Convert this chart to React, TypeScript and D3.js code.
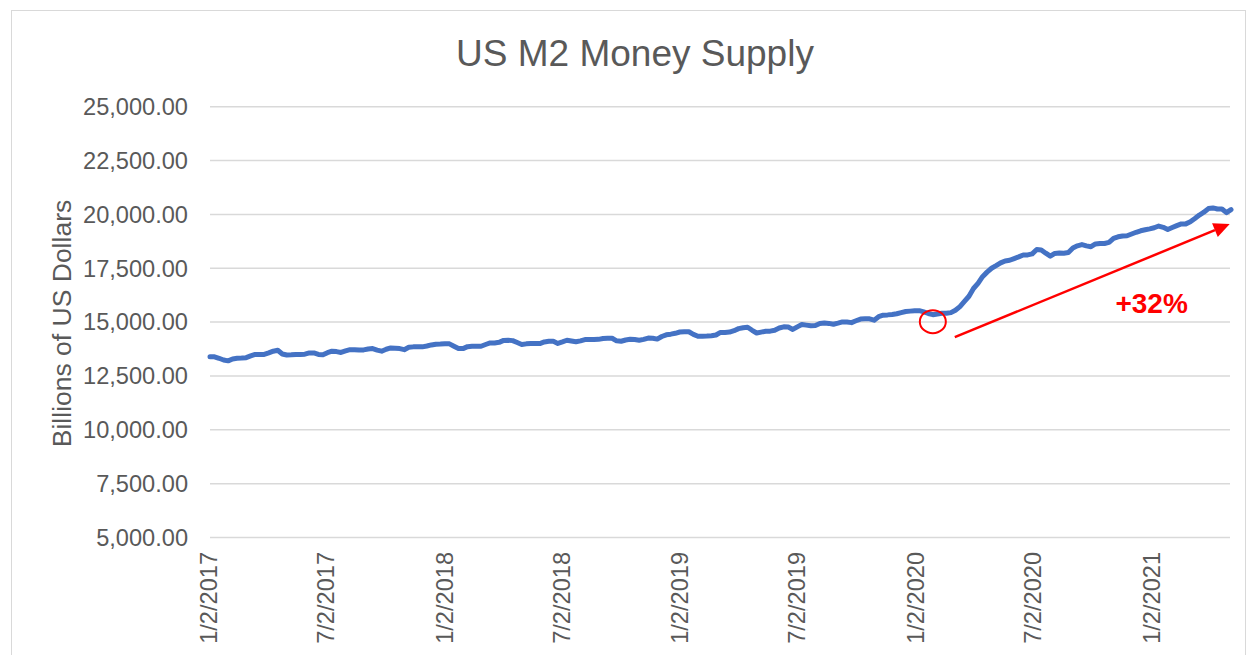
import React from "react"
import * as d3 from "d3"

// weekly M2 readings (billions USD), starting Mon 1/2/2017
const startDate = new Date(Date.UTC(2017, 0, 2))
const m2Values = [
  13390, 13390, 13320, 13240, 13200, 13290, 13320, 13330, 13350, 13430,
  13500, 13500, 13500, 13570, 13650, 13690, 13520, 13470, 13480, 13500,
  13500, 13510, 13570, 13570, 13500, 13480, 13580, 13650, 13630, 13590,
  13660, 13720, 13720, 13700, 13710, 13750, 13770, 13700, 13650, 13740,
  13800, 13790, 13770, 13720, 13830, 13850, 13850, 13850, 13890, 13940,
  13975, 13985, 14000, 13990, 13880, 13775, 13770, 13860, 13880, 13880,
  13880, 13960, 14030, 14030, 14060, 14150, 14157, 14140, 14050, 13960,
  13990, 14005, 14005, 14005, 14080, 14110, 14110, 14010, 14080, 14157,
  14120, 14085, 14130, 14190, 14190, 14190, 14200, 14240, 14250, 14250,
  14130, 14110, 14170, 14200, 14190, 14160, 14200, 14260, 14250, 14210,
  14330, 14410, 14440, 14480, 14540, 14557, 14550, 14430, 14340, 14342,
  14350, 14370, 14400, 14520, 14520, 14535, 14600, 14696, 14740, 14760,
  14620, 14494, 14535, 14575, 14580, 14620, 14725, 14780, 14770, 14660,
  14780, 14890, 14860, 14830, 14840, 14935, 14960, 14940, 14900, 14950,
  15010, 15000, 14975, 15060, 15140, 15150, 15150, 15090, 15250, 15320,
  15335, 15355, 15387, 15440, 15490, 15510, 15530, 15530, 15475, 15400,
  15345, 15380, 15415, 15410, 15440, 15550, 15720, 15960, 16200, 16560,
  16800, 17110, 17320, 17500, 17620, 17750, 17840, 17870, 17950, 18030,
  18117, 18120, 18170, 18370, 18350, 18200, 18060, 18190, 18210, 18200,
  18230, 18440, 18540, 18600, 18540, 18500, 18630, 18650, 18650, 18700,
  18886, 18960, 19000, 19010, 19090, 19170, 19240, 19285, 19330, 19380,
  19460, 19400, 19300, 19390, 19480, 19560, 19560, 19660, 19810, 19970,
  20100, 20270, 20300, 20250, 20250, 20080, 20220,
]
const yTicks = [5000, 7500, 10000, 12500, 15000, 17500, 20000, 22500, 25000]
const xTickLabels = [
  "1/2/2017", "7/2/2017", "1/2/2018", "7/2/2018", "1/2/2019",
  "7/2/2019", "1/2/2020", "7/2/2020", "1/2/2021",
]

const parseTick = (s: string) => {
  const [m, d, y] = s.split("/").map(Number)
  return new Date(Date.UTC(y, m - 1, d))
}

const data = m2Values.map((v, i) => ({
  date: d3.utcDay.offset(startDate, i * 7),
  value: v,
}))

const width = 1248
const height = 655
const font = "'Liberation Sans', Arial, sans-serif"
const textColor = "#595959"

const App = () => {
  const x = d3
    .scaleUtc()
    .domain([data[0].date, data[data.length - 1].date])
    .range([210, 1231])
  const y = d3.scaleLinear().domain([5000, 25000]).range([537.5, 106.7])

  const line = d3
    .line<{ date: Date; value: number }>()
    .x((d) => x(d.date))
    .y((d) => y(d.value))

  // annotation anchors, in data terms
  const circleAt = { date: new Date(Date.UTC(2020, 0, 27)), value: 15020 }
  const arrowFrom = { date: new Date(Date.UTC(2020, 2, 1)), value: 14300 }
  const arrowTo = { date: new Date(Date.UTC(2021, 4, 1)), value: 19550 }
  const labelAt = { date: new Date(Date.UTC(2020, 11, 31)), value: 15410 }

  const ax1 = x(arrowFrom.date)
  const ay1 = y(arrowFrom.value)
  const ax2 = x(arrowTo.date)
  const ay2 = y(arrowTo.value)
  const angle = Math.atan2(ay2 - ay1, ax2 - ax1)
  const headLen = 16
  const headHalf = 7.5
  const bx = ax2 - headLen * Math.cos(angle)
  const by = ay2 - headLen * Math.sin(angle)
  const px = -Math.sin(angle) * headHalf
  const py = Math.cos(angle) * headHalf

  return (
    <svg
      width={width}
      height={height}
      style={{ position: "absolute", left: 0, top: 0, background: "#fff" }}
    >
      <rect x={11.5} y={10.5} width={1234} height={660} fill="#fff" stroke="#d9d9d9" />

      <text
        x={635}
        y={66}
        textAnchor="middle"
        fontFamily={font}
        fontSize={37}
        fill={textColor}
      >
        US M2 Money Supply
      </text>

      {yTicks.map((t) => (
        <g key={t}>
          <line x1={210} x2={1230} y1={y(t)} y2={y(t)} stroke="#d9d9d9" strokeWidth={1.5} />
          <text
            x={188}
            y={y(t)}
            dy="0.35em"
            textAnchor="end"
            fontFamily={font}
            fontSize={23.6}
            fill={textColor}
          >
            {d3.format(",.2f")(t)}
          </text>
        </g>
      ))}

      {xTickLabels.map((s) => (
        <text
          key={s}
          transform={`translate(${x(parseTick(s)) - 1}, 552) rotate(-90)`}
          dy="0.35em"
          textAnchor="end"
          fontFamily={font}
          fontSize={23.6}
          fill={textColor}
        >
          {s}
        </text>
      ))}

      <text
        transform="translate(71, 323.5) rotate(-90)"
        textAnchor="middle"
        fontFamily={font}
        fontSize={26.5}
        fill={textColor}
      >
        Billions of US Dollars
      </text>

      <path
        d={line(data) ?? ""}
        fill="none"
        stroke="#4472C4"
        strokeWidth={5}
        strokeLinejoin="round"
        strokeLinecap="round"
      />

      <ellipse
        cx={x(circleAt.date)}
        cy={y(circleAt.value)}
        rx={13}
        ry={11.5}
        fill="none"
        stroke="#ff0000"
        strokeWidth={2}
      />
      <line x1={ax1} y1={ay1} x2={bx} y2={by} stroke="#ff0000" strokeWidth={2.5} />
      <polygon
        points={`${ax2},${ay2} ${bx + px},${by + py} ${bx - px},${by - py}`}
        fill="#ff0000"
      />
      <text
        x={x(labelAt.date)}
        y={y(labelAt.value)}
        textAnchor="middle"
        fontFamily={font}
        fontSize={28}
        fontWeight="bold"
        fill="#ff0000"
      >
        +32%
      </text>
    </svg>
  )
}

export default App
